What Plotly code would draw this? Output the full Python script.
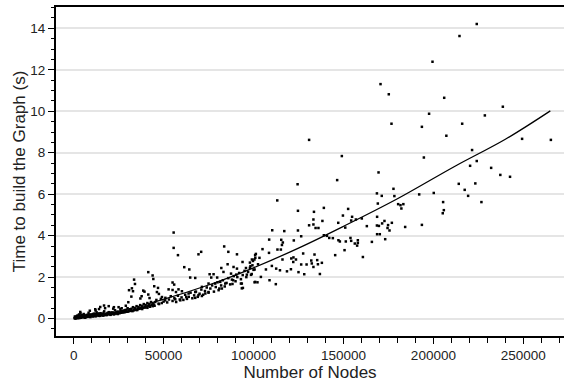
import plotly.graph_objects as go

# ---- measured points (Number of Nodes, Time in s) ----
dense_nodes = [500, 800, 1000, 1200, 1500, 1800, 2000, 2200, 2500, 2800, 3000, 3200, 3500, 3800, 4000, 4300, 4600, 5000,
               5300, 5600, 6000, 6300, 6600, 7000, 7300, 7600, 8000, 8300, 8600, 9000, 9300, 9600, 10000, 10400, 10800,
               11200, 11600, 12000, 12400, 12800, 13200, 13600, 14000, 14500, 15000, 15500, 16000, 16500, 17000, 17500,
               18000, 18500, 19000, 19500, 20000, 20500, 21000, 21500, 22000, 22500, 23000, 23500, 24000, 24500, 25000,
               25500, 26000, 26500, 27000, 27500, 28000, 28500, 29000, 29500, 30000, 30500, 31000, 31500, 32000, 32500,
               33000, 33500, 34000, 34500, 35000, 35500, 36000, 36500, 37000, 37500, 38000, 38500, 39000, 39500, 40000,
               40500, 41000, 41500, 42000, 42500, 43000, 43500, 44000, 44500,
               700, 1300, 1900, 2600, 3300, 4100, 4800, 5500, 6200, 6900, 7700, 8500, 9200, 9900, 10700, 11500, 12300,
               13100, 13900, 14800, 15700, 16600, 17600, 18600, 19600, 20700, 21800, 22900, 24000, 25200, 26400, 27600,
               28800, 30100, 31400, 32700, 34000, 35300, 36700, 38100, 39500, 41000, 42500, 44000,
               3700, 9000, 12000, 14800, 17500, 19500, 22000, 25000, 29000, 16900, 22400, 26700, 12200, 14100, 30400]
dense_time = [0.02, 0.05, 0.00, 0.08, 0.03, 0.12, 0.05, 0.15, 0.02, 0.10, 0.20, 0.06, 0.13, 0.25, 0.04, 0.09, 0.17, 0.07,
              0.12, 0.22, 0.08, 0.15, 0.05, 0.11, 0.18, 0.09, 0.14, 0.28, 0.10, 0.16, 0.07, 0.20, 0.12, 0.17, 0.10,
              0.24, 0.14, 0.19, 0.11, 0.30, 0.15, 0.21, 0.13, 0.18, 0.26, 0.16, 0.20, 0.14, 0.35, 0.19,
              0.23, 0.17, 0.28, 0.20, 0.25, 0.18, 0.30, 0.22, 0.27, 0.20, 0.40, 0.24, 0.30, 0.22, 0.33,
              0.26, 0.45, 0.28, 0.34, 0.30, 0.38, 0.31, 0.42, 0.33, 0.50, 0.35, 0.41, 0.37, 0.46, 0.38,
              0.55, 0.40, 0.48, 0.42, 0.60, 0.45, 0.52, 0.47, 0.65, 0.50, 0.57, 0.52, 0.70, 0.55, 0.62,
              0.58, 0.75, 0.60, 0.68, 0.62, 0.80, 0.66, 0.72, 0.68,
              0.10, 0.02, 0.09, 0.07, 0.03, 0.14, 0.06, 0.16, 0.04, 0.13, 0.08, 0.19, 0.09, 0.15, 0.21, 0.12, 0.23,
              0.17, 0.25, 0.13, 0.22, 0.28, 0.17, 0.24, 0.31, 0.21, 0.29, 0.26, 0.33, 0.27, 0.36, 0.31,
              0.39, 0.34, 0.44, 0.36, 0.44, 0.41, 0.49, 0.46, 0.53, 0.52, 0.57, 0.60,
              0.32, 0.38, 0.45, 0.56, 0.50, 0.60, 0.48, 0.55, 0.62, 0.63, 0.55, 0.50, 0.39, 0.46, 0.79]

mid_nodes = [45000, 46000, 47500, 48500, 49000, 50000, 51000, 52000, 53000, 54000, 55000, 56000, 57000, 58000, 59000,
             60000, 61000, 62000, 63000, 64000, 65000, 66000, 67000, 68000, 69000, 70000, 71000, 72000, 73000, 74000,
             75000, 76000, 77000, 78000, 79000, 80000, 81000, 82000, 83000, 84000, 85000, 86000, 87000, 88000, 89000,
             90000, 91000, 92000, 93000, 94000, 95000, 96000, 97000, 98000, 99000, 100000,
             41500, 33600, 34100, 43900, 44300, 32400, 33000, 30800, 38700, 39400, 32100, 37800, 41500, 42200, 44800,
             47400, 37100, 46300, 46900, 52800, 55000, 58300, 56900, 60200, 63900, 67600, 71300, 75000, 78700, 81500,
             84300, 88300, 93000, 94100, 69400, 73200, 75000, 80600, 82400, 62600, 67600, 71300, 59300, 56500, 50900,
             49100, 45400, 47200, 55000, 55900]
mid_time = [0.62, 0.90, 0.70, 0.95, 0.75, 0.82, 1.00, 0.78, 0.92, 1.08, 0.85, 0.98, 0.80, 1.10, 0.92,
            1.02, 0.90, 1.15, 0.95, 1.05, 1.25, 0.98, 1.12, 1.30, 1.05, 1.20, 1.40, 1.15, 1.33, 1.50,
            1.25, 1.45, 1.60, 1.30, 1.52, 1.75, 1.45, 1.60, 1.85, 1.55, 1.72, 1.95, 1.65, 1.88, 2.05,
            1.80, 2.00, 2.20, 1.90, 2.10, 2.30, 2.00, 2.25, 2.45, 2.15, 2.35,
            2.24, 1.88, 1.67, 2.08, 1.91, 1.46, 1.32, 1.37, 1.35, 1.30, 1.06, 1.08, 1.16, 0.99, 1.56,
            1.19, 0.97, 1.28, 1.48, 1.41, 1.38, 1.41, 1.28, 1.32, 1.21, 1.28, 1.53, 1.69, 1.69, 1.77,
            1.69, 1.67, 1.69, 1.48, 1.13, 1.21, 1.28, 1.37, 1.45, 1.04, 1.00, 1.09, 0.88, 0.93, 0.88,
            1.04, 0.80, 0.72, 1.74, 1.64]

upper_nodes = [55600, 55600, 58000, 69400, 70900, 83700, 86000, 90800, 61500, 64300, 64800, 67600, 75600, 77800, 76500,
               79800, 82100, 85600, 88900, 90800, 93900, 83300, 87500, 90400, 100900, 98000, 100500, 102500, 100900,
               93500, 93500, 88700,
               124500, 113200, 124700, 139100, 133600, 133300, 138300, 133300, 130900, 134500, 136100, 110400, 117100,
               124700, 126500, 139100, 140800, 142100, 144100, 108700, 115400, 116300, 122400, 115800, 113300, 115200,
               105000, 108600, 101300, 103300, 99700, 127600, 133900, 116100, 121000, 122200, 123600, 122100, 126500,
               129500, 132100, 135400, 135800, 138000, 133300, 132400, 120800, 114700, 112600, 110200, 106900, 118600,
               125000, 128200, 136900, 104100, 108900, 112400, 102200, 100600, 96300, 98600, 95800, 98300, 100600,
               99100, 101000, 99400, 130900]
upper_time = [4.15, 3.41, 3.06, 3.10, 3.22, 3.48, 3.22, 3.10, 2.48, 2.37, 1.98, 1.96, 2.14, 2.14, 1.98,
              1.98, 2.44, 2.62, 2.49, 2.41, 2.73, 2.25, 2.17, 2.12, 3.06, 2.70, 2.85, 2.62, 1.77,
              1.69, 1.46, 1.85,
              6.48, 5.70, 5.20, 5.34, 5.15, 4.78, 4.71, 4.54, 4.50, 4.37, 4.37, 4.26, 4.22,
              4.25, 3.97, 4.02, 3.99, 3.89, 3.88, 3.81, 3.80, 3.67, 3.77, 3.55, 3.33, 3.33,
              3.35, 3.17, 3.12, 2.93, 2.78, 3.14, 3.09, 2.85, 2.90, 2.95, 2.85, 2.73, 2.61,
              2.61, 2.80, 2.82, 2.62, 2.69, 2.49, 2.66, 2.38, 2.33, 2.41, 2.54, 2.37, 2.28,
              2.24, 2.14, 2.15, 2.01, 1.85, 1.66, 1.75, 1.75, 2.12, 2.11, 2.44, 2.53, 2.37,
              2.85, 2.93, 2.57, 8.62]

far_nodes = [224100, 214500, 199500, 170600, 175200, 206000, 238600, 197600, 228600, 176700, 193600, 216000, 207200,
             249300, 265300, 221500, 149100, 194700, 224100, 220400, 232100, 237200, 242600, 169500, 146500, 214100,
             223300, 217400, 177800, 168600, 171300, 192100, 200200, 219300, 205400, 226700, 205800, 205200,
             178300, 169100, 180400, 181700, 183300, 182200, 152600, 149700, 154800, 154300, 156900, 160200, 147100,
             151000, 168700, 172800, 171500, 176900, 163000, 168600, 169700, 174800, 174500, 175600, 184300, 193600,
             168700, 170200, 147200, 148000, 151300, 153900, 154300, 158000, 158000, 156300, 157600, 165800, 173200,
             150600, 145400, 160800]
far_time = [14.21, 13.63, 12.39, 11.31, 10.82, 10.65, 10.22, 9.88, 9.80, 9.40, 9.25, 9.40, 8.82,
            8.67, 8.62, 8.13, 7.84, 7.77, 7.60, 7.37, 7.27, 6.93, 6.84, 7.05, 6.68, 6.50,
            6.52, 6.21, 6.26, 6.04, 5.92, 5.99, 6.06, 5.92, 5.62, 5.62, 5.23, 5.08,
            5.91, 5.55, 5.52, 5.47, 5.52, 5.31, 5.29, 4.97, 4.91, 4.73, 4.78, 4.83, 4.62,
            4.39, 4.91, 4.71, 4.59, 4.62, 4.46, 4.49, 4.47, 4.51, 4.37, 4.25, 4.42, 4.52,
            4.07, 4.07, 3.78, 3.72, 3.72, 3.89, 3.75, 3.78, 3.65, 3.62, 3.52, 3.70, 3.83,
            3.30, 3.06, 2.97]

# ---- fitted trend curve ----
fit_nodes = [1000, 20000, 48000, 75000, 100000, 125000, 150000, 180000, 212000, 240000, 265000]
fit_time = [0.02, 0.26, 0.88, 1.62, 2.45, 3.40, 4.45, 5.78, 7.35, 8.65, 10.02]

y_ticks = [0, 2, 4, 6, 8, 10, 12, 14]
x_ticks = [0, 50000, 100000, 150000, 200000, 250000]

nodes = dense_nodes + mid_nodes + upper_nodes + far_nodes
times = dense_time + mid_time + upper_time + far_time

FONT = "Liberation Sans, Arial, Helvetica, sans-serif"

fig = go.Figure()
fig.add_trace(go.Scatter(x=nodes, y=times, mode="markers",
                         marker=dict(symbol="square", size=2.5, color="black", line=dict(width=0)),
                         showlegend=False, hoverinfo="x+y"))
fig.add_trace(go.Scatter(x=fit_nodes, y=fit_time, mode="lines", line=dict(color="black", width=1.3, shape="spline"),
                         showlegend=False))

fig.update_layout(
    width=564, height=383,
    margin=dict(l=56, r=0, t=7, b=47),
    paper_bgcolor="white", plot_bgcolor="white",
    font=dict(family=FONT, size=13.5, color="#222222"),
    xaxis=dict(
        range=[-9800, 272600], tickmode="array", tickvals=x_ticks,
        ticktext=[str(v) for v in x_ticks],
        showgrid=False, zeroline=False,
        showline=True, linecolor="black", linewidth=2.2, mirror=True,
        ticks="outside", ticklen=6, tickwidth=1.2, tickcolor="black",
        minor=dict(dtick=10000, tick0=0, ticks="outside", ticklen=5, tickwidth=1.2, tickcolor="black", showgrid=False),
        title=dict(text="Number of Nodes", font=dict(size=17, color="#222222"), standoff=0),
    ),
    yaxis=dict(
        range=[-0.84, 15.03], tickmode="array", tickvals=y_ticks,
        showgrid=True, gridcolor="#e5e5e5", gridwidth=1.5, zeroline=False,
        showline=True, linecolor="black", linewidth=2.2,
        ticks="outside", ticklen=6, tickwidth=1.2, tickcolor="black",
        minor=dict(dtick=0.5, tick0=0, ticks="outside", ticklen=3, tickwidth=1.2, tickcolor="black", showgrid=False),
        title=dict(text="Time to build the Graph (s)", font=dict(size=17, color="#222222"), standoff=0),
    ),
)

fig.write_html("out.html", config={"displayModeBar": False},
               post_script="document.body.style.margin='0';document.body.style.padding='0';")
